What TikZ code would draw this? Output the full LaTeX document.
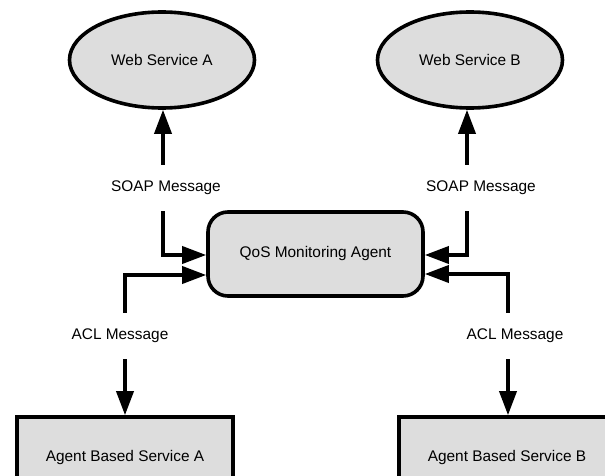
\documentclass[tikz,border=0pt]{standalone}
\usepackage{fontspec}
\setmainfont{Liberation Sans}
\usetikzlibrary{shapes.geometric, arrows.meta, calc}
\definecolor{boxgray}{RGB}{221,221,221}
\begin{document}
\begin{tikzpicture}[x=1pt, y=-1pt,
  every node/.style={font=\fontsize{15.4}{18}\selectfont},
  shapebox/.style={draw=black, line width=3.6pt, fill=boxgray},
  service/.style={shapebox, ellipse, minimum width=185pt, minimum height=96pt},
  monitor/.style={shapebox, rectangle, rounded corners=20pt, minimum width=215pt, minimum height=84pt},
  agentbox/.style={shapebox, rectangle, minimum width=216pt, minimum height=82pt},
  msglabel/.style={inner sep=0pt, minimum height=46pt},
  link/.style={line width=3.6pt, -{Triangle[length=24pt, width=17pt]}},
]
\useasboundingbox (0,0) rectangle (605,476);
\clip (0,0) rectangle (605,476);

% services and the monitoring agent
\node[service] (wsa) at (162,60) {Web Service A};
\node[service] (wsb) at (470,60) {Web Service B};
\node[monitor] (qos) at (315.5,254) {QoS Monitoring Agent};
\node[agentbox] (aga) at (125,458) {Agent Based Service A};
\node[agentbox] (agb) at (507,458) {Agent Based Service B};

% message labels
\node[msglabel] (soapa) at (166,188) {SOAP Message};
\node[msglabel] (soapb) at (481,188) {SOAP Message};
\node[msglabel] (acla) at (120,336) {ACL Message};
\node[msglabel] (aclb) at (515,336) {ACL Message};

% entry points on the monitor's sides
\coordinate (qa1) at ($(qos.west)+(0,1)$);
\coordinate (qa2) at ($(qos.west)+(0,21)$);
\coordinate (qb1) at ($(qos.east)+(0,1)$);
\coordinate (qb2) at ($(qos.east)+(0,20)$);

% SOAP links
\draw[link] (163,0 |- soapa.north) -- (163,0 |- wsa.south);
\draw[link] (467,0 |- soapb.north) -- (467,0 |- wsb.south);
\draw[link] (163,0 |- soapa.south) |- (qa1);
\draw[link] (467,0 |- soapb.south) |- (qb1);

% ACL links
\draw[link] (125,0 |- acla.north) |- (qa2);
\draw[link] (508,0 |- aclb.north) |- (qb2);
\draw[link] (125,0 |- acla.south) -- (125,0 |- aga.north);
\draw[link] (508,0 |- aclb.south) -- (508,0 |- agb.north);
\end{tikzpicture}
\end{document}
